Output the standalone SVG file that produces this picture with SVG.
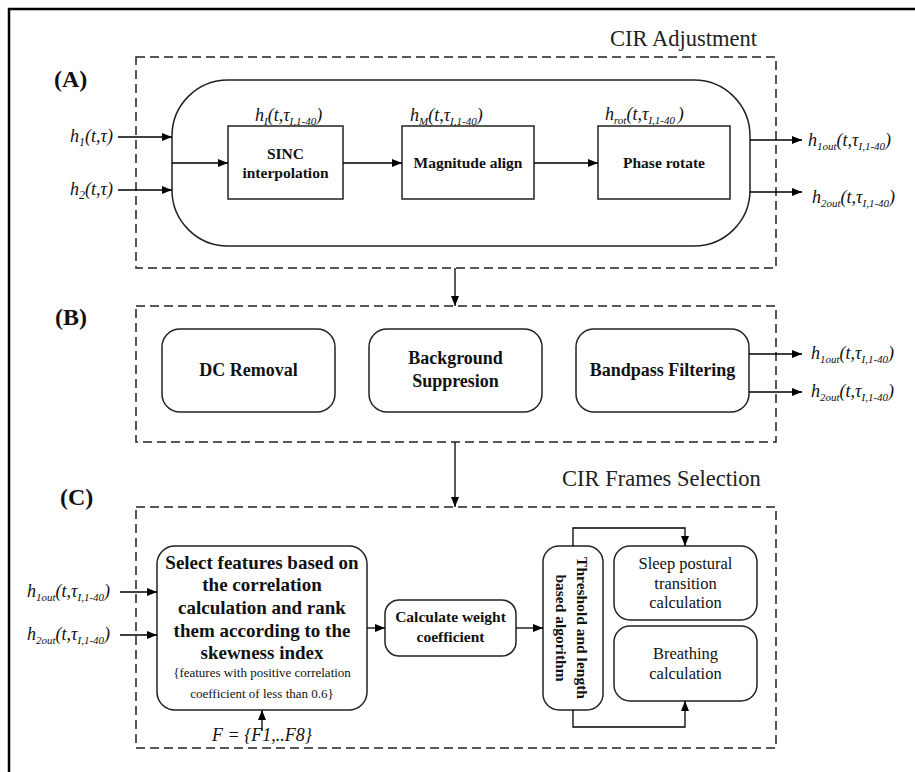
<svg xmlns="http://www.w3.org/2000/svg" width="915" height="772" viewBox="0 0 915 772">
<style>
.frame{fill:none;stroke:#000;stroke-width:2.5}
.dash{fill:none;stroke:#222;stroke-width:1.5;stroke-dasharray:9,5}
.box{fill:#fff;stroke:#222;stroke-width:1.5}
.ln{fill:none;stroke:#000;stroke-width:1.3}
.m{font-family:"Liberation Serif",serif;font-style:italic;font-size:18px;fill:#111}
.b{font-family:"Liberation Serif",serif;font-weight:bold;fill:#111;text-anchor:middle}
.n{font-family:"Liberation Serif",serif;fill:#111;text-anchor:middle}
.title{font-family:"Liberation Serif",serif;font-size:22.5px;fill:#222}
.lab{font-family:"Liberation Serif",serif;font-weight:bold;font-size:24px;fill:#111}
</style>
<defs>
<marker id="ah" markerWidth="10" markerHeight="8" refX="10" refY="4" orient="auto" markerUnits="userSpaceOnUse">
<path d="M0,0 L10,4 L0,8 z" fill="#000"/>
</marker>
</defs>
<rect width="915" height="772" fill="#fff"/>
<path class="frame" d="M9,772 V9 H915"/>

<g id="sectionA">
<rect class="dash" x="136" y="57" width="640" height="211"/>
<text class="lab" x="54" y="87">(A)</text>
<text class="title" x="610" y="46">CIR Adjustment</text>
<rect id="pill" class="box" x="172" y="80" width="578" height="166" rx="56" ry="56"/>
</g>

<g id="sinc">
<rect class="box" x="228" y="126" width="115" height="73"/>
<text class="b" font-size="15.5" x="285.5" y="159">SINC</text>
<text class="b" font-size="15.5" x="285.5" y="178">interpolation</text>
<text class="m" x="255" y="121">h<tspan font-size="11" dy="4">I</tspan><tspan dy="-4">(t,τ</tspan><tspan font-size="11" dy="4">I,1-40</tspan><tspan dy="-4">)</tspan></text>
</g>

<g id="magnitude">
<rect class="box" x="402" y="126" width="132" height="73"/>
<text class="b" font-size="15.5" x="468" y="168">Magnitude align</text>
<text class="m" x="410" y="121">h<tspan font-size="11" dy="4">M</tspan><tspan dy="-4">(t,τ</tspan><tspan font-size="11" dy="4">I,1-40</tspan><tspan dy="-4">)</tspan></text>
</g>

<g id="phase">
<rect class="box" x="598" y="126" width="132" height="73"/>
<text class="b" font-size="15.5" x="664" y="168">Phase rotate</text>
<text class="m" x="605" y="120">h<tspan font-size="11" dy="4">rot</tspan><tspan dy="-4">(t,τ</tspan><tspan font-size="11" dy="4">I,1-40 </tspan><tspan dy="-4">)</tspan></text>
</g>

<g id="inputsA">
<text class="m" x="70" y="142">h<tspan font-size="12" dy="4">1</tspan><tspan dy="-4">(t,τ)</tspan></text>
<text class="m" x="70" y="195">h<tspan font-size="12" dy="4">2</tspan><tspan dy="-4">(t,τ)</tspan></text>
</g>

<g id="outputsA">
<text class="m" x="808" y="146">h<tspan font-size="11" dy="4">1out</tspan><tspan dy="-4">(t,τ</tspan><tspan font-size="11" dy="4">I,1-40</tspan><tspan dy="-4">)</tspan></text>
<text class="m" x="812" y="203">h<tspan font-size="11" dy="4">2out</tspan><tspan dy="-4">(t,τ</tspan><tspan font-size="11" dy="4">I,1-40</tspan><tspan dy="-4">)</tspan></text>
</g>

<g id="sectionB">
<rect class="dash" x="136" y="306" width="640" height="136"/>
<text class="lab" x="55" y="325">(B)</text>
</g>

<g id="dc">
<rect class="box" x="162" y="329" width="173" height="83" rx="18"/>
<text class="b" font-size="18" x="248.5" y="376">DC Removal</text>
</g>
<g id="background">
<rect class="box" x="369" y="329" width="173" height="83" rx="18"/>
<text class="b" font-size="18" x="455.5" y="364">Background</text>
<text class="b" font-size="18" x="455.5" y="387">Suppresion</text>
</g>
<g id="bandpass">
<rect class="box" x="576" y="329" width="173" height="83" rx="18"/>
<text class="b" font-size="18" x="662.5" y="376">Bandpass Filtering</text>
</g>
<g id="outputsB">
<text class="m" x="811" y="359">h<tspan font-size="11" dy="4">1out</tspan><tspan dy="-4">(t,τ</tspan><tspan font-size="11" dy="4">I,1-40</tspan><tspan dy="-4">)</tspan></text>
<text class="m" x="811" y="397">h<tspan font-size="11" dy="4">2out</tspan><tspan dy="-4">(t,τ</tspan><tspan font-size="11" dy="4">I,1-40</tspan><tspan dy="-4">)</tspan></text>
</g>

<g id="sectionC">
<rect class="dash" x="136" y="507" width="640" height="241"/>
<text class="lab" x="60" y="505">(C)</text>
<text class="title" x="562" y="486">CIR Frames Selection</text>
</g>

<g id="inputsC">
<text class="m" x="27" y="597">h<tspan font-size="11" dy="4">1out</tspan><tspan dy="-4">(t,τ</tspan><tspan font-size="11" dy="4">I,1-40</tspan><tspan dy="-4">)</tspan></text>
<text class="m" x="27" y="640">h<tspan font-size="11" dy="4">2out</tspan><tspan dy="-4">(t,τ</tspan><tspan font-size="11" dy="4">I,1-40</tspan><tspan dy="-4">)</tspan></text>
</g>

<g id="select">
<rect class="box" x="157" y="546" width="210" height="164" rx="18"/>
<text class="b" font-size="19" x="262" y="569">Select features based on</text>
<text class="b" font-size="19" x="262" y="591">the correlation</text>
<text class="b" font-size="19" x="262" y="614">calculation and rank</text>
<text class="b" font-size="19" x="262" y="637">them according to the</text>
<text class="b" font-size="19" x="262" y="659">skewness index</text>
<text class="n" font-size="13" x="262" y="677">{features with positive correlation</text>
<text class="n" font-size="13" x="262" y="698">coefficient of less than 0.6}</text>
</g>
<g id="fset">
<text class="m" font-size="17" x="262" y="741" text-anchor="middle">F = {F1,..F8}</text>
</g>

<g id="weight">
<rect class="box" x="385" y="600" width="131" height="56" rx="14"/>
<text class="b" font-size="15.5" x="450.5" y="622">Calculate weight</text>
<text class="b" font-size="15.5" x="450.5" y="642">coefficient</text>
</g>

<g id="threshold">
<rect class="box" x="543" y="546" width="60" height="164" rx="16"/>
<text class="b" font-size="15.5" transform="translate(577,628) rotate(90)">Threshold and length</text>
<text class="b" font-size="15.5" transform="translate(556,628) rotate(90)">based algorithm</text>
</g>

<g id="sleep">
<rect class="box" x="614" y="546" width="143" height="74" rx="16"/>
<text class="n" font-size="16.5" x="685.5" y="569">Sleep postural</text>
<text class="n" font-size="16.5" x="685.5" y="589">transition</text>
<text class="n" font-size="16.5" x="685.5" y="608">calculation</text>
</g>

<g id="breathing">
<rect class="box" x="614" y="626" width="143" height="75" rx="16"/>
<text class="n" font-size="16.5" x="685.5" y="659">Breathing</text>
<text class="n" font-size="16.5" x="685.5" y="679">calculation</text>
</g>

<g id="connectors">
<path class="ln" d="M118,137 H172" marker-end="url(#ah)"/>
<path class="ln" d="M118,190 H172" marker-end="url(#ah)"/>
<path class="ln" d="M172,163 H228" marker-end="url(#ah)"/>
<path class="ln" d="M343,163 H402" marker-end="url(#ah)"/>
<path class="ln" d="M534,163 H598" marker-end="url(#ah)"/>
<path class="ln" d="M750,140 H802" marker-end="url(#ah)"/>
<path class="ln" d="M750,192 H802" marker-end="url(#ah)"/>
<path class="ln" d="M455,268 V306" marker-end="url(#ah)"/>
<path class="ln" d="M749,354 H802" marker-end="url(#ah)"/>
<path class="ln" d="M749,392 H802" marker-end="url(#ah)"/>
<path class="ln" d="M455,442 V507" marker-end="url(#ah)"/>
<path class="ln" d="M120,592 H157" marker-end="url(#ah)"/>
<path class="ln" d="M120,635 H157" marker-end="url(#ah)"/>
<path class="ln" d="M262,731 V710" marker-end="url(#ah)"/>
<path class="ln" d="M367,628 H385" marker-end="url(#ah)"/>
<path class="ln" d="M516,628 H543" marker-end="url(#ah)"/>
<path class="ln" d="M573,546 V528 H685 V546" marker-end="url(#ah)"/>
<path class="ln" d="M573,710 V727 H685 V701" marker-end="url(#ah)"/>
</g>
</svg>
